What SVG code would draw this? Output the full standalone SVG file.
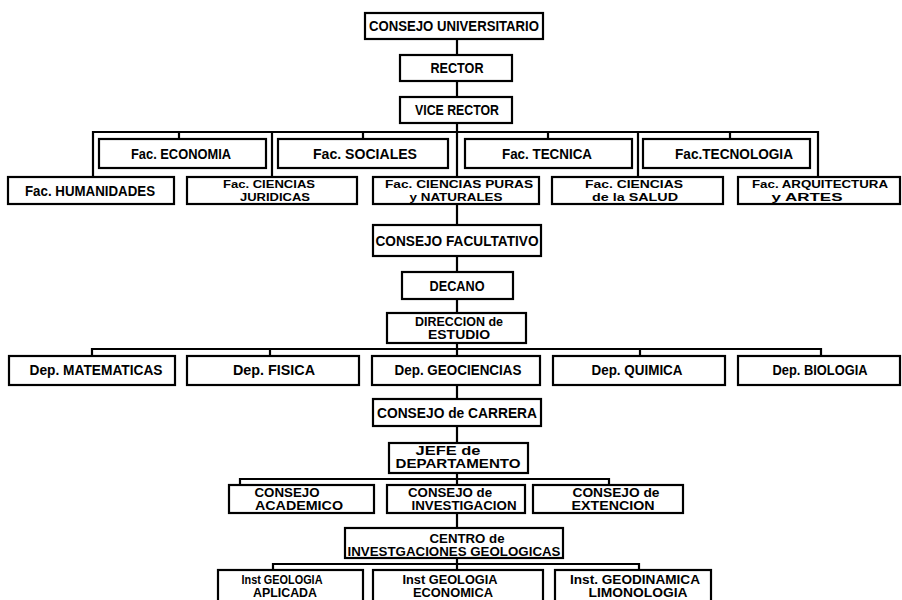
<svg xmlns="http://www.w3.org/2000/svg" width="902" height="600" viewBox="0 0 902 600">
<style>
.b{fill:#fff;stroke:#000;stroke-width:2.2}
.c{fill:none;stroke:#000;stroke-width:2.2}
text{font-family:"Liberation Sans",Arial,sans-serif;font-weight:bold;font-size:14px;text-anchor:middle;fill:#000}
.s{font-size:12.5px}
.f{font-size:11.5px}
</style>
<rect width="902" height="600" fill="#fff"/>
<g id="connectors">
<path class="c" d="M457 39V55M457 81V97M457 123V177"/>
<path class="c" d="M93 177V132H818V177M272 132V177M638 132V177M179 132V139M363 132V139M548 132V139M730 132V139"/>
<path class="c" d="M457 204V225M457 256V272M457 299V313M457 343V356"/>
<path class="c" d="M92 356V349H821V356M270 349V356M640 349V356"/>
<path class="c" d="M457 385V399M457 426V443M457 473V485"/>
<path class="c" d="M240 485V479H609V485"/>
<path class="c" d="M457 513V528M457 558V570"/>
<path class="c" d="M273 570V564H639V570"/>
</g>
<g id="consejo-universitario"><rect class="b" x="365" y="13" width="178" height="26"/><text x="454" y="31" textLength="170" lengthAdjust="spacingAndGlyphs">CONSEJO UNIVERSITARIO</text></g>
<g id="rector"><rect class="b" x="400" y="55" width="112" height="26"/><text x="457" y="73" textLength="53" lengthAdjust="spacingAndGlyphs">RECTOR</text></g>
<g id="vice-rector"><rect class="b" x="400" y="97" width="112" height="26"/><text x="457" y="115" textLength="84" lengthAdjust="spacingAndGlyphs">VICE RECTOR</text></g>
<g id="fac-economia"><rect class="b" x="99" y="139" width="167" height="29"/><text x="181" y="159" textLength="100" lengthAdjust="spacingAndGlyphs">Fac. ECONOMIA</text></g>
<g id="fac-sociales"><rect class="b" x="278" y="139" width="170" height="29"/><text x="365" y="159" textLength="104" lengthAdjust="spacingAndGlyphs">Fac. SOCIALES</text></g>
<g id="fac-tecnica"><rect class="b" x="465" y="139" width="167" height="29"/><text x="547" y="159" textLength="90" lengthAdjust="spacingAndGlyphs">Fac. TECNICA</text></g>
<g id="fac-tecnologia"><rect class="b" x="643" y="139" width="167" height="29"/><text x="734" y="159" textLength="118" lengthAdjust="spacingAndGlyphs">Fac.TECNOLOGIA</text></g>
<g id="fac-humanidades"><rect class="b" x="8" y="177" width="166" height="27"/><text x="90" y="196" textLength="130" lengthAdjust="spacingAndGlyphs">Fac. HUMANIDADES</text></g>
<g id="fac-juridicas"><rect class="b" x="187" y="177" width="170" height="27"/><text class="f" x="269" y="188" textLength="92" lengthAdjust="spacingAndGlyphs">Fac. CIENCIAS</text><text class="f" x="275" y="201" textLength="70" lengthAdjust="spacingAndGlyphs">JURIDICAS</text></g>
<g id="fac-puras"><rect class="b" x="373" y="177" width="166" height="27"/><text class="f" x="459" y="188" textLength="148" lengthAdjust="spacingAndGlyphs">Fac. CIENCIAS PURAS</text><text class="f" x="456" y="201" textLength="93" lengthAdjust="spacingAndGlyphs">y NATURALES</text></g>
<g id="fac-salud"><rect class="b" x="552" y="177" width="171" height="27"/><text class="f" x="634" y="188" textLength="98" lengthAdjust="spacingAndGlyphs">Fac. CIENCIAS</text><text class="f" x="635" y="201" textLength="86" lengthAdjust="spacingAndGlyphs">de la SALUD</text></g>
<g id="fac-arquitectura"><rect class="b" x="738" y="177" width="162" height="27"/><text class="f" x="820" y="188" textLength="136" lengthAdjust="spacingAndGlyphs">Fac. ARQUITECTURA</text><text class="f" x="807" y="201" textLength="71" lengthAdjust="spacingAndGlyphs">y  ARTES</text></g>
<g id="consejo-facultativo"><rect class="b" x="373" y="225" width="168" height="31"/><text x="457" y="246" textLength="163" lengthAdjust="spacingAndGlyphs">CONSEJO FACULTATIVO</text></g>
<g id="decano"><rect class="b" x="402" y="272" width="111" height="27"/><text x="457" y="291" textLength="55" lengthAdjust="spacingAndGlyphs">DECANO</text></g>
<g id="direccion"><rect class="b" x="387" y="313" width="139" height="30"/><text class="s" x="459" y="326" textLength="88" lengthAdjust="spacingAndGlyphs">DIRECCION de</text><text class="s" x="459" y="339" textLength="62" lengthAdjust="spacingAndGlyphs">ESTUDIO</text></g>
<g id="dep-matematicas"><rect class="b" x="9" y="356" width="166" height="29"/><text x="96" y="375" textLength="133" lengthAdjust="spacingAndGlyphs">Dep. MATEMATICAS</text></g>
<g id="dep-fisica"><rect class="b" x="187" y="356" width="172" height="29"/><text x="274" y="375" textLength="82" lengthAdjust="spacingAndGlyphs">Dep. FISICA</text></g>
<g id="dep-geociencias"><rect class="b" x="372" y="356" width="168" height="29"/><text x="458" y="375" textLength="127" lengthAdjust="spacingAndGlyphs">Dep. GEOCIENCIAS</text></g>
<g id="dep-quimica"><rect class="b" x="553" y="356" width="172" height="29"/><text x="637" y="375" textLength="91" lengthAdjust="spacingAndGlyphs">Dep. QUIMICA</text></g>
<g id="dep-biologia"><rect class="b" x="738" y="356" width="162" height="29"/><text x="820" y="375" textLength="95" lengthAdjust="spacingAndGlyphs">Dep. BIOLOGIA</text></g>
<g id="consejo-carrera"><rect class="b" x="373" y="399" width="168" height="27"/><text x="457" y="418" textLength="160" lengthAdjust="spacingAndGlyphs">CONSEJO de CARRERA</text></g>
<g id="jefe"><rect class="b" x="389" y="443" width="139" height="30"/><text class="s" x="448" y="455" textLength="65" lengthAdjust="spacingAndGlyphs">JEFE de</text><text class="s" x="458" y="468" textLength="125" lengthAdjust="spacingAndGlyphs">DEPARTAMENTO</text></g>
<g id="consejo-academico"><rect class="b" x="229" y="485" width="145" height="28"/><text class="s" x="287" y="497" textLength="65" lengthAdjust="spacingAndGlyphs">CONSEJO</text><text class="s" x="299" y="510" textLength="88" lengthAdjust="spacingAndGlyphs">ACADEMICO</text></g>
<g id="consejo-investigacion"><rect class="b" x="387" y="485" width="138" height="28"/><text class="s" x="450" y="497" textLength="84" lengthAdjust="spacingAndGlyphs">CONSEJO de</text><text class="s" x="464" y="510" textLength="105" lengthAdjust="spacingAndGlyphs">INVESTIGACION</text></g>
<g id="consejo-extencion"><rect class="b" x="533" y="485" width="150" height="28"/><text class="s" x="616" y="497" textLength="87" lengthAdjust="spacingAndGlyphs">CONSEJO de</text><text class="s" x="613" y="510" textLength="83" lengthAdjust="spacingAndGlyphs">EXTENCION</text></g>
<g id="centro"><rect class="b" x="345" y="528" width="218" height="30"/><text class="s" x="467" y="543" textLength="75" lengthAdjust="spacingAndGlyphs">CENTRO  de</text><text class="s" x="454" y="556" textLength="213" lengthAdjust="spacingAndGlyphs">INVESTGACIONES GEOLOGICAS</text></g>
<g id="inst-aplicada"><rect class="b" x="218" y="570" width="145" height="32"/><text class="s" x="282" y="584" textLength="81" lengthAdjust="spacingAndGlyphs">Inst GEOLOGIA</text><text class="s" x="285" y="597" textLength="64" lengthAdjust="spacingAndGlyphs">APLICADA</text></g>
<g id="inst-economica"><rect class="b" x="373" y="570" width="170" height="32"/><text class="s" x="450" y="584" textLength="95" lengthAdjust="spacingAndGlyphs">Inst GEOLOGIA</text><text class="s" x="453" y="597" textLength="80" lengthAdjust="spacingAndGlyphs">ECONOMICA</text></g>
<g id="inst-geodinamica"><rect class="b" x="555" y="570" width="156" height="32"/><text class="s" x="635" y="584" textLength="130" lengthAdjust="spacingAndGlyphs">Inst. GEODINAMICA</text><text class="s" x="638" y="597" textLength="99" lengthAdjust="spacingAndGlyphs">LIMONOLOGIA</text></g>
</svg>
